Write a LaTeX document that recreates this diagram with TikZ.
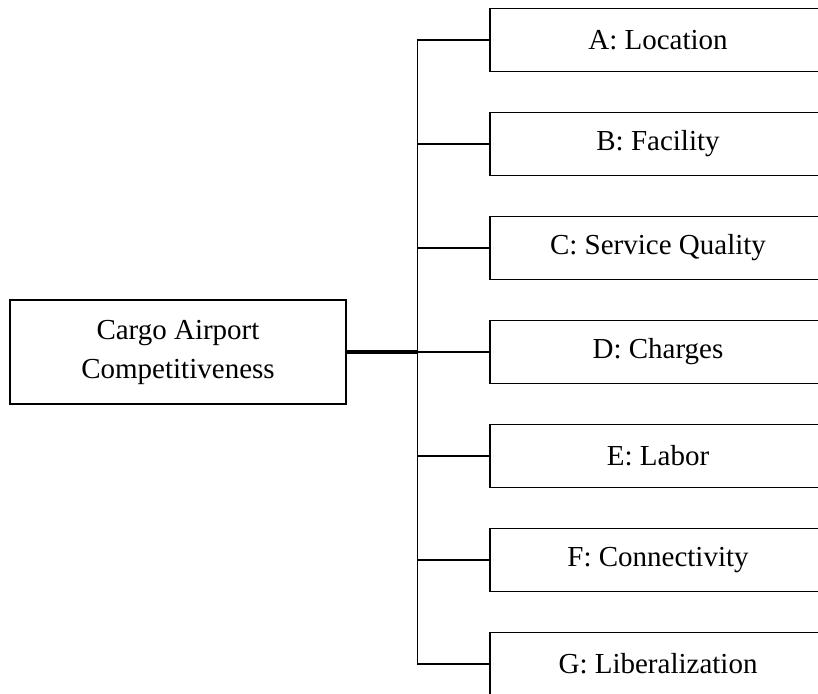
\documentclass[tikz,border=0pt]{standalone}
\usepackage{fontspec}
\setmainfont{Liberation Serif}
\usepackage{tikz}
\tikzset{% 
  factors/.style = {
    grow'=east, level distance=480pt, sibling distance=104pt,
    every node/.style = {shape=rectangle, draw, line width=1.4pt,
      align=center, minimum width=336pt, minimum height=63pt,
      font=\fontsize{29}{39}\selectfont},
    edge from parent/.style = {draw, line width=1.4pt},
    edge from parent path = {(\tikzparentnode.east) -- ++(71pt,0)
      |- (\tikzchildnode.west)}
  },
  trunk/.style = {draw, line width=3.2pt}
}
\begin{document}
\begin{tikzpicture}[x=1pt, y=1pt, factors]
\useasboundingbox (0,0) rectangle (818,-693);
\clip (0,0) rectangle (818,-693);
\node[minimum height=104pt] (root) at (178,-352) {Cargo Airport\\Competitiveness}
 child {
node (A) {A: Location}
}
 child {
node (B) {B: Facility}
}
 child {
node (C) {C: Service Quality}
}
 child {
node (D) {D: Charges}
}
 child {
node (E) {E: Labor}
}
 child {
node (F) {F: Connectivity}
}
 child {
node (G) {G: Liberalization}
}
;
\coordinate (bus) at ([xshift=71pt]root.east);
\draw[trunk] (root) -- (bus);
\end{tikzpicture}
\end{document}
